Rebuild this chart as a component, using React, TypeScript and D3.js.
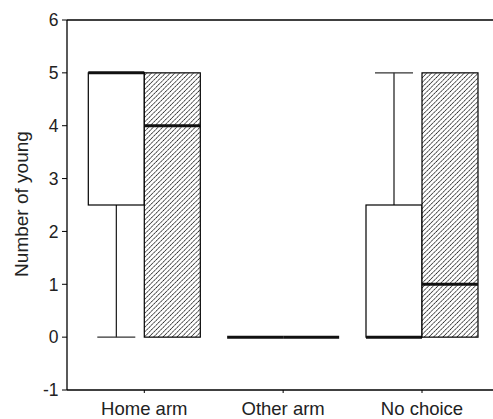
import React from "react";
import * as d3 from "d3";

const categories = ["Home arm", "Other arm", "No choice"];
// open box series: [min, q1, median, q3, max]
const openSeries = [
  [0, 2.5, 5, 5, 5],
  [0, 0, 0, 0, 0],
  [0, 0, 0, 2.5, 5],
];
// hatched box series
const hatchSeries = [
  [0, 0, 4, 5, 5],
  [0, 0, 0, 0, 0],
  [0, 0, 1, 5, 5],
];
const yTicks = [-1, 0, 1, 2, 3, 4, 5, 6];

const W = 493;
const H = 419;
const left = 67;
const top = 20;
const bottom = 390;
const boxW = 56;
const FONT = "Liberation Sans, Arial, Helvetica, sans-serif";

export default function App() {
  const y = d3.scaleLinear().domain([-1, 6]).range([bottom, top]);
  const x = d3.scalePoint<string>().domain(categories).range([144.3, 422]);

  const renderBox = (s: number[], x0: number, hatched: boolean, key: string) => {
    const [mn, q1, med, q3, mx] = s;
    const cx = x0 + boxW / 2;
    const capW = 38;
    const degenerate = q1 === q3;
    return (
      <g key={key}>
        {!degenerate && (
          <rect
            x={x0}
            y={y(q3)}
            width={boxW}
            height={y(q1) - y(q3)}
            fill={hatched ? "url(#hatch)" : "#fff"}
            stroke="#000"
            strokeWidth={1.2}
          />
        )}
        {mn < q1 && (
          <g stroke="#000" strokeWidth={1.1}>
            <line x1={cx} x2={cx} y1={y(q1)} y2={y(mn)} />
            <line x1={cx - capW / 2} x2={cx + capW / 2} y1={y(mn)} y2={y(mn)} stroke="#333" />
          </g>
        )}
        {mx > q3 && (
          <g stroke="#000" strokeWidth={1.1}>
            <line x1={cx} x2={cx} y1={y(q3)} y2={y(mx)} />
            <line x1={cx - capW / 2} x2={cx + capW / 2} y1={y(mx)} y2={y(mx)} stroke="#333" />
          </g>
        )}
        <line x1={x0} x2={x0 + boxW} y1={y(med)} y2={y(med)} stroke="#111" strokeWidth={3} />
      </g>
    );
  };

  return (
    <svg width={W} height={H} style={{ position: "absolute", left: 0, top: 0 }}>
      <defs>
        <pattern id="hatch" patternUnits="userSpaceOnUse" width="3.3" height="3.3" patternTransform="rotate(45)">
          <rect width="3.3" height="3.3" fill="#fff" />
          <line x1="0" y1="0" x2="0" y2="3.3" stroke="#000" strokeWidth="1.5" strokeDasharray="1.3,0.5" />
        </pattern>
      </defs>
      <rect width={W} height={H} fill="#fff" />

      {/* axes frame */}
      <line x1={left} x2={W} y1={top} y2={top} stroke="#000" strokeWidth={1.3} />
      <line x1={left} x2={W} y1={bottom} y2={bottom} stroke="#000" strokeWidth={1.3} />
      <line x1={left} x2={left} y1={top} y2={bottom} stroke="#000" strokeWidth={1.3} />

      {yTicks.map((t) => (
        <g key={t}>
          <line x1={left - 5} x2={left} y1={y(t)} y2={y(t)} stroke="#000" strokeWidth={1} />
          <text
            x={58.5}
            y={y(t)}
            dy="0.36em"
            textAnchor="end"
            fontFamily={FONT}
            fontSize={17.5}
            fill="#222"
          >
            {t}
          </text>
        </g>
      ))}

      {categories.map((c) => (
        <g key={c}>
          <line x1={x(c)!} x2={x(c)!} y1={bottom} y2={bottom + 3} stroke="#000" strokeWidth={1} />
          <text
            x={x(c)!}
            y={415}
            textAnchor="middle"
            fontFamily={FONT}
            fontSize={18.5}
            fill="#222"
          >
            {c}
          </text>
        </g>
      ))}

      <text
        transform={`translate(28,${(130 + 278) / 2}) rotate(-90)`}
        textAnchor="middle"
        fontFamily={FONT}
        fontSize={19}
        fill="#222"
      >
        Number of young
      </text>

      {categories.map((c, i) => (
        <g key={c}>
          {renderBox(openSeries[i], x(c)! - boxW, false, "o" + i)}
          {renderBox(hatchSeries[i], x(c)!, true, "h" + i)}
        </g>
      ))}
    </svg>
  );
}
